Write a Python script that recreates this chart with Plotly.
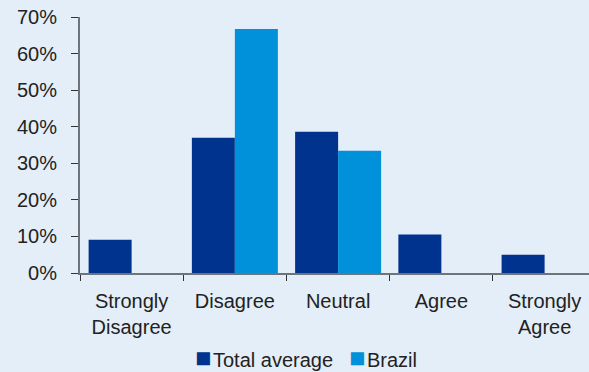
import plotly.graph_objects as go

categories = ["Strongly<br>Disagree", "Disagree", "Neutral", "Agree", "Strongly<br>Agree"]
total_average = [9.1, 37.0, 38.6, 10.5, 5.0]
brazil = [0, 66.7, 33.4, 0, 0]
y_ticks = [0, 10, 20, 30, 40, 50, 60, 70]
y_tick_labels = ["0%", "10%", "20%", "30%", "40%", "50%", "60%", "70%"]
series_names = ["Total average", "Brazil"]

BG = "#E4EEF8"
DARK = "#00338D"
LIGHT = "#0091DA"
FONT = "Arial, Liberation Sans, sans-serif"

fig = go.Figure()
fig.add_trace(go.Bar(x=categories, y=total_average, name=series_names[0],
                     marker=dict(color=DARK, line=dict(width=0))))
fig.add_trace(go.Bar(x=categories, y=brazil, name=series_names[1],
                     marker=dict(color=LIGHT, line=dict(width=0))))

sq = "<span style='font-size:27px;color:{c}'>■</span><span style='font-size:6px'> </span>"
for name, color, xpos in [(series_names[0], DARK, 0.2259), (series_names[1], LIGHT, 0.5285)]:
    fig.add_annotation(text=sq.format(c=color) + name, xref="paper", yref="paper",
                       x=xpos, y=-0.332, xanchor="left", yanchor="middle", showarrow=False,
                       borderpad=0, borderwidth=0,
                       font=dict(family=FONT, size=20, color="#222222"))

fig.update_layout(
    width=589, height=372,
    margin=dict(l=80, r=0, t=17, b=99),
    paper_bgcolor=BG, plot_bgcolor=BG,
    barmode="group", bargap=0.167, bargroupgap=0,
    font=dict(family=FONT, size=20, color="#222222"),
    showlegend=False,
    xaxis=dict(range=[-0.5, 4.43], showline=True, linecolor="#6E747C", linewidth=2,
               ticks="outside", tickson="boundaries", ticklen=6, tickcolor="#333333",
               tickwidth=1, showgrid=False, zeroline=False, ticklabelstandoff=9),
    yaxis=dict(range=[0, 70], tickmode="array", tickvals=y_ticks, ticktext=y_tick_labels,
               showline=True, linecolor="#6E747C", linewidth=2, ticks="outside", ticklen=7,
               tickcolor="#333333", tickwidth=1, showgrid=False, zeroline=False,
               ticklabelstandoff=10),
)

fig.write_html("out.html", config={"displayModeBar": False},
               post_script="document.body.style.margin='0';document.body.style.overflow='hidden';")
